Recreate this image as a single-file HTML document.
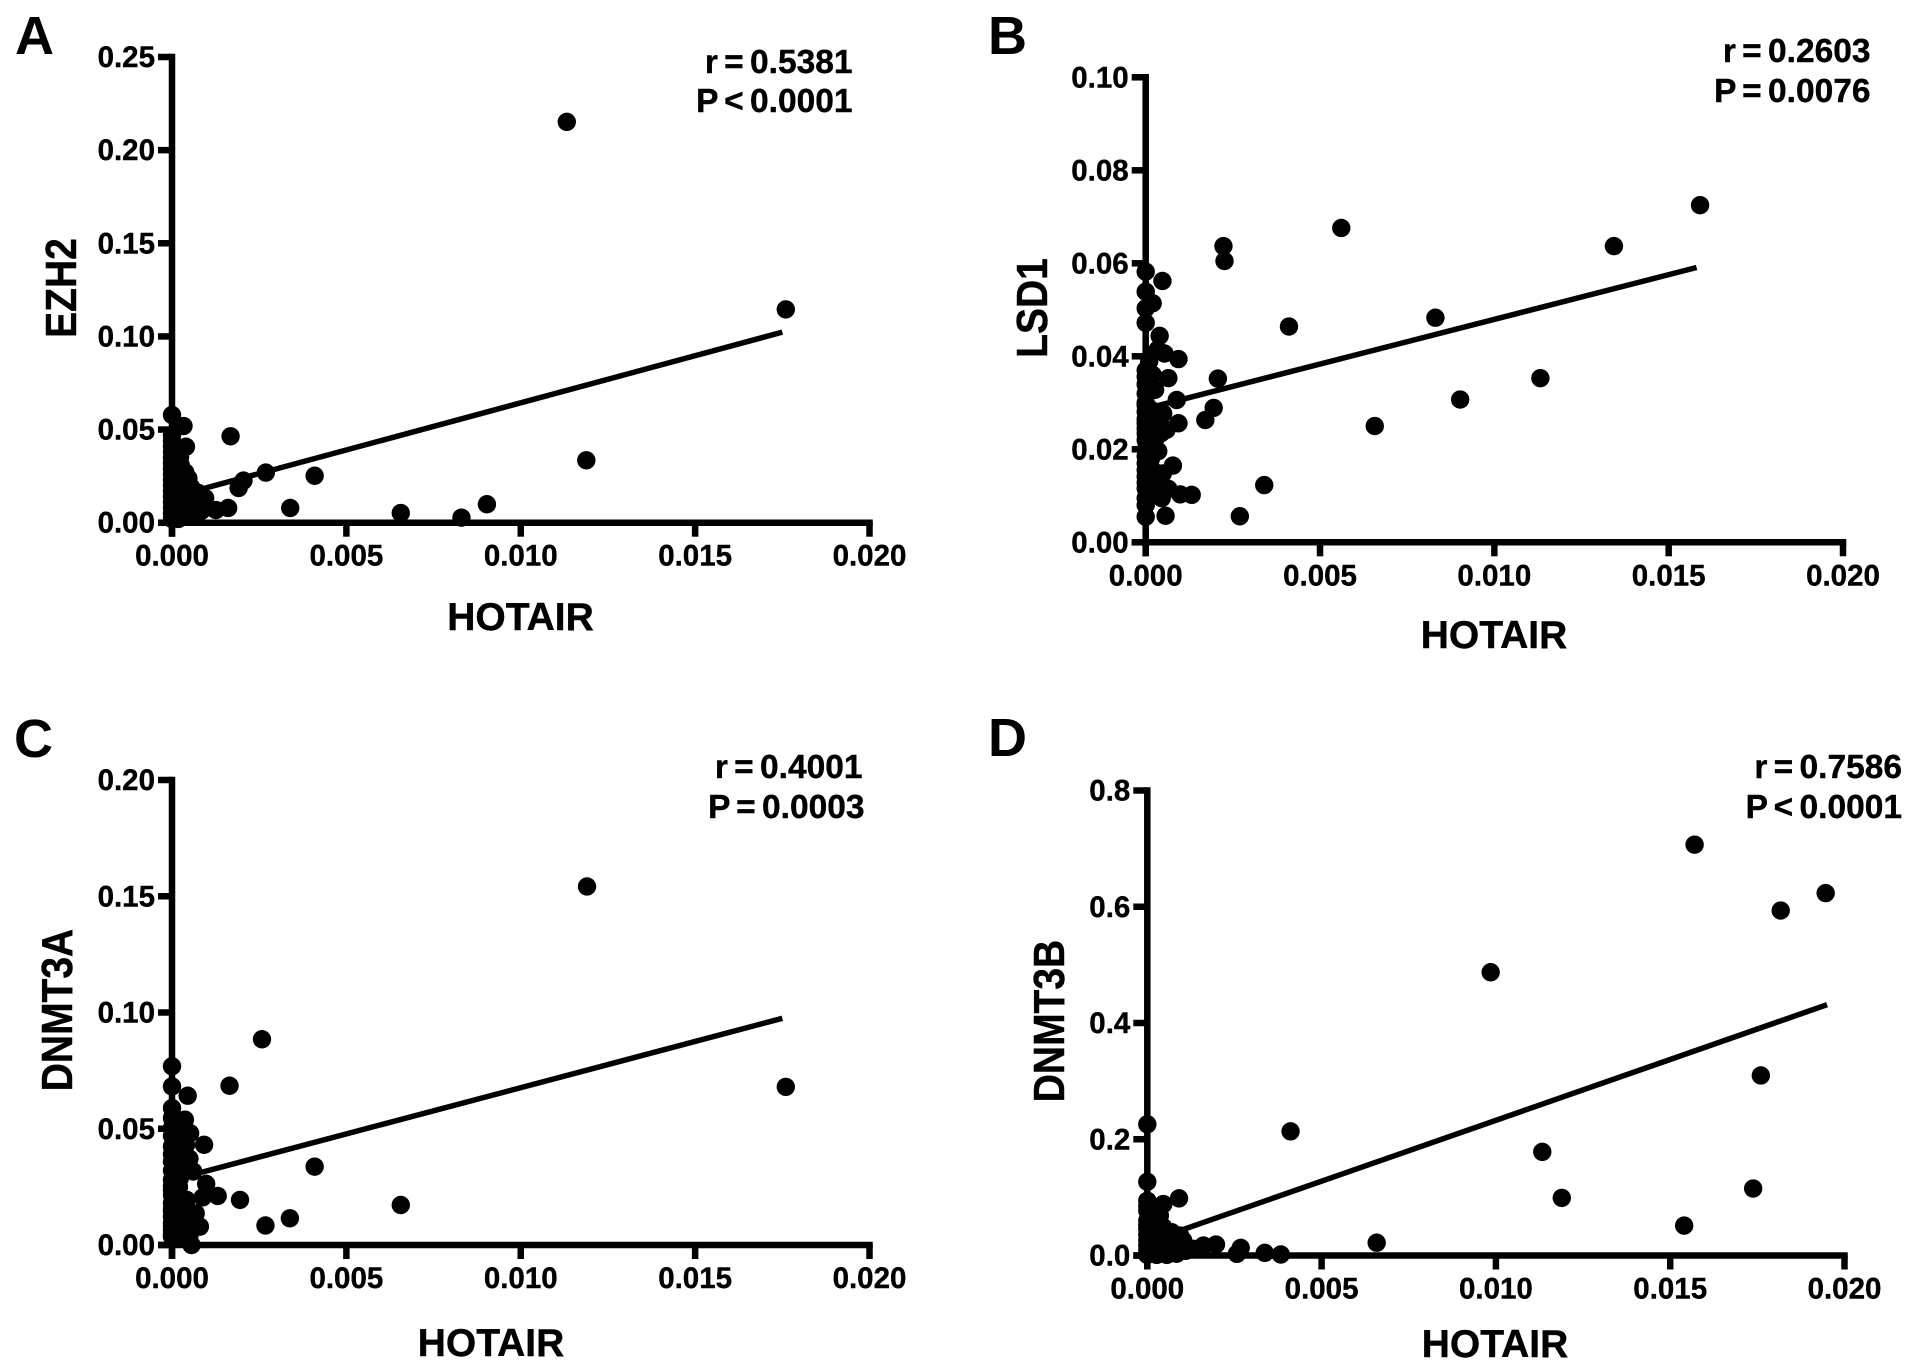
<!DOCTYPE html>
<html lang="en">
<head>
<meta charset="utf-8">
<title>HOTAIR correlation scatter plots</title>
<style>
html,body{margin:0;padding:0;background:#fff;}
svg{display:block;}
text{font-family:"Liberation Sans",Arial,sans-serif;font-weight:bold;fill:#000;}
.letter{font-size:54px;}
.stat{font-size:33.5px;text-anchor:end;word-spacing:-3px;stroke:#000;stroke-width:0.4px;}
.title{font-size:39px;text-anchor:middle;stroke:#000;stroke-width:0.4px;}
.tick{font-size:29.5px;stroke:#000;stroke-width:0.4px;}
</style>
</head>
<body>
<svg id="figure" xmlns="http://www.w3.org/2000/svg" width="1913" height="1371" viewBox="0 0 1913 1371">
  <rect x="0" y="0" width="1913" height="1371" fill="#fff"/>

  <g id="panel-a">
    <text class="letter" x="15" y="54">A</text>
    <text class="stat" x="852.5" y="73">r = 0.5381</text>
    <text class="stat" x="852.5" y="112">P &lt; 0.0001</text>
    <text class="title" x="520.5" y="630">HOTAIR</text>
    <text class="title" transform="translate(76,288) rotate(-90) scale(1,1.12)">EZH2</text>
  </g>

  <g id="panel-b">
    <text class="letter" x="988" y="54">B</text>
    <text class="stat" x="1870.5" y="62">r = 0.2603</text>
    <text class="stat" x="1870.5" y="102">P = 0.0076</text>
    <text class="title" x="1494" y="648">HOTAIR</text>
    <text class="title" transform="translate(1047,308) rotate(-90) scale(1,1.12)">LSD1</text>
  </g>

  <g id="panel-c">
    <text class="letter" x="14" y="757">C</text>
    <text class="stat" x="862.5" y="778">r = 0.4001</text>
    <text class="stat" x="864.5" y="818">P = 0.0003</text>
    <text class="title" x="491" y="1356">HOTAIR</text>
    <text class="title" transform="translate(72,1010) rotate(-90) scale(1,1.12)">DNMT3A</text>
  </g>

  <g id="panel-d">
    <text class="letter" x="988" y="756">D</text>
    <text class="stat" x="1902" y="778">r = 0.7586</text>
    <text class="stat" x="1902" y="818">P &lt; 0.0001</text>
    <text class="title" x="1495" y="1357">HOTAIR</text>
    <text class="title" transform="translate(1064,1021) rotate(-90) scale(1,1.12)">DNMT3B</text>
  </g>
</svg>

<script>
/* Shared x axis */
const xTickValues = [0, 0.005, 0.010, 0.015, 0.020];
const xTickLabels = ["0.000", "0.005", "0.010", "0.015", "0.020"];

/* Panel A: EZH2 vs HOTAIR */
const aYTickValues = [0, 0.05, 0.10, 0.15, 0.20, 0.25];
const aYTickLabels = ["0.00", "0.05", "0.10", "0.15", "0.20", "0.25"];
const aHotair = [0.01132, 0.0176, 0.01188, 0.00903, 0.0083, 0.00656, 0.00409, 0.00339, 0.00269, 0.00205, 0.00191, 0.00168, 0.00161, 0.00126,
  0, 0.00033, 0.0004, 0.00023, 0, 0, 0, 0, 0, 0, 0, 0, 0, 0, 0, 0, 0, 0, 0, 0,
  0.0001, 0.0002, 0.0003, 0.0004, 0.00047, 0.0002, 0.0003, 0.0004, 0.0005, 0.0006, 0.0007, 0.0006, 0.0002, 0.0001, 0.0008, 0.00095, 0.00085, 0.0005, 0.0003, 0.0007, 0.0001,
  0.00012, 0.00025, 0.00038, 0.00015, 0.00028, 0.00042, 0.00055, 0.00068, 0.00015, 0.0003, 0.00045, 0.0006, 0.00075, 0.0009, 0.00018, 0.00035, 0.0005, 0.00065, 0.00078];
const aEzh2 = [0.2152, 0.1145, 0.0335, 0.0099, 0.0027, 0.0052, 0.0252, 0.0079, 0.0269, 0.0226, 0.0186, 0.0464, 0.0079, 0.0068,
  0.0578, 0.0519, 0.0408, 0.0352, 0.047, 0.044, 0.041, 0.038, 0.035, 0.032, 0.029, 0.026, 0.023, 0.020, 0.017, 0.014, 0.011, 0.008, 0.005, 0.002,
  0.030, 0.026, 0.022, 0.018, 0.0238, 0.016, 0.012, 0.008, 0.013, 0.017, 0.012, 0.007, 0.006, 0.012, 0.009, 0.0132, 0.0065, 0.004, 0.003, 0.004, 0.004,
  0.036, 0.031, 0.027, 0.022, 0.02, 0.021, 0.019, 0.014, 0.009, 0.015, 0.015, 0.01, 0.016, 0.009, 0.002, 0.005, 0.007, 0.004, 0.006];
const aFitX = [0.00086, 0.0175];
const aFitY = [0.0181, 0.1023];

/* Panel B: LSD1 vs HOTAIR */
const bYTickValues = [0, 0.02, 0.04, 0.06, 0.08, 0.10];
const bYTickLabels = ["0.00", "0.02", "0.04", "0.06", "0.08", "0.10"];
const bHotair = [0.0159, 0.01343, 0.00561, 0.00223, 0.00226, 0.00411, 0.00831, 0.01132, 0.00902, 0.00657, 0.0034, 0.0027, 0.00207, 0.00195, 0.00171,
  0.00048, 0, 0, 0.0002, 0, 0, 0.0004, 0.00034, 0.00054, 0.00094, 0.0001, 0.00065, 0, 0.0001, 0.00027, 0, 0.00089, 0, 0.0005, 0.00094, 0.0006, 0.00036, 0, 0, 0.0001, 0.00036, 0, 0, 0.00078, 0.00049, 0, 0, 0.00065, 0.00099, 0.00132, 0.00046, 0, 0, 0.00057,
  0, 0, 0, 0, 0, 0, 0, 0, 0, 0, 0, 0.0002, 0.00025, 0.00015, 0.0002, 0.00025, 0.0002, 0.00015, 0.0002, 0.00022, 0.0002, 0.0003, 0.00045, 0.0002];
const bLsd1 = [0.0725, 0.0637, 0.0676, 0.0637, 0.0605, 0.0464, 0.0483, 0.0353, 0.0307, 0.0250, 0.0123, 0.0056, 0.0352, 0.0289, 0.0263,
  0.0562, 0.0582, 0.0539, 0.0514, 0.0503, 0.0472, 0.0444, 0.0414, 0.0406, 0.0394, 0.0389, 0.0353, 0.0356, 0.0346, 0.0328, 0.032, 0.0306, 0.0281, 0.0277, 0.0256, 0.0242, 0.0256, 0.0256, 0.0234, 0.0216, 0.0196, 0.0199, 0.017, 0.0165, 0.0148, 0.0141, 0.0116, 0.0115, 0.0103, 0.0102, 0.0095, 0.008, 0.0055, 0.0057,
  0.037, 0.034, 0.03, 0.0295, 0.0265, 0.0245, 0.022, 0.0185, 0.0155, 0.0128, 0.0095, 0.036, 0.033, 0.0285, 0.026, 0.0235, 0.021, 0.018, 0.0155, 0.013, 0.0105, 0.0225, 0.0235, 0.0265];
const bFitX = [0.0003, 0.0158];
const bFitY = [0.0293, 0.0591];

/* Panel C: DNMT3A vs HOTAIR */
const cYTickValues = [0, 0.05, 0.10, 0.15, 0.20];
const cYTickLabels = ["0.00", "0.05", "0.10", "0.15", "0.20"];
const cHotair = [0.0119, 0.0176, 0.00258, 0.00165, 0.00409, 0.00656, 0.00195, 0.00268, 0.00338,
  0, 0, 0.00045, 0, 0, 0.00037, 0.00052, 0.00092, 0, 0, 0.00018, 0, 0.00028, 0.0005, 0.00061, 0.00028, 0, 0.00098, 0, 0.00131, 0.00088, 0, 0.00042, 0.00068, 0, 0.00023, 0.0008, 0, 0.00056, 0.00033, 0.00056, 0,
  0, 0, 0, 0, 0, 0, 0, 0, 0, 0, 0.00015, 0.00015, 0.00018, 0.0002, 0.0002, 0.00015, 0.0002, 0.00015, 0.0002, 0.00035, 0.00045, 0.0004, 0.00022, 0.0005, 0.0006, 0.00012, 0.0004];
const cDnmt3a = [0.1542, 0.068, 0.0885, 0.0685, 0.0337, 0.0172, 0.0194, 0.0084, 0.0115,
  0.0769, 0.0682, 0.0642, 0.0589, 0.0546, 0.0539, 0.0481, 0.0431, 0.0503, 0.0424, 0.0424, 0.0359, 0.0374, 0.0371, 0.0316, 0.033, 0.028, 0.0263, 0.0237, 0.0211, 0.0205, 0.018, 0.0194, 0.0136, 0.0122, 0.0151, 0.0079, 0.0065, 0.0065, 0.0036, 0.0, 0.0036,
  0.047, 0.039, 0.032, 0.0255, 0.0215, 0.0155, 0.0095, 0.008, 0.0045, 0.0145, 0.05, 0.045, 0.037, 0.03, 0.025, 0.02, 0.01, 0.006, 0.0035, 0.0035, 0.01, 0.0125, 0.0285, 0.004, 0.0105, 0.0165, 0.043];
const cFitX = [0.00068, 0.0175];
const cFitY = [0.0306, 0.0975];

/* Panel D: DNMT3B vs HOTAIR */
const dYTickValues = [0, 0.2, 0.4, 0.6, 0.8];
const dYTickLabels = ["0.0", "0.2", "0.4", "0.6", "0.8"];
const dHotair = [0.0157, 0.01817, 0.01946, 0.00985, 0.0176, 0.01133, 0.01189, 0.01738, 0.0154, 0.00658, 0.00411,
  0, 0, 0.00091, 0, 0.00046, 0, 0.00036, 0, 0, 0.00046, 0.00094, 0.0007, 0, 0.00027, 0.00056, 0, 0.00056, 0, 0.00103, 0.00132, 0.00161, 0.00197, 0.00257, 0.00268, 0.00337, 0.00383, 0.00027, 0.00084, 0.00027, 0.0002, 0.0004, 0.0006,
  0, 0, 0, 0, 0.00015, 0.00015, 0.00018, 0.0003, 0.0003, 0.00012, 0.0004, 0.0005, 0.0006, 0.0007, 0.0002, 0.0004, 0.0008, 0.0009, 0.0011, 0.0001, 0.0003, 0.0005];
const dDnmt3b = [0.7068, 0.5935, 0.6235, 0.4873, 0.3097, 0.1783, 0.0991, 0.1152, 0.0514, 0.022, 0.2136,
  0.2257, 0.1268, 0.0983, 0.0943, 0.0885, 0.077, 0.0686, 0.06, 0.0457, 0.0486, 0.0343, 0.04, 0.0257, 0.0257, 0.0143, 0.0086, 0.001, 0.001, 0.0257, 0.0114, 0.0171, 0.0189, 0.0029, 0.0131, 0.0046, 0.0017, 0.001, 0.003, 0.05, 0.035, 0.03, 0.025,
  0.085, 0.052, 0.036, 0.017, 0.075, 0.06, 0.045, 0.058, 0.04, 0.02, 0.02, 0.03, 0.028, 0.018, 0.01, 0.01, 0.012, 0.018, 0.008, 0.005, 0.006, 0.008];
const dFitX = [0.0009, 0.0195];
const dFitY = [0.042, 0.4315];

const SVG_NS = "http://www.w3.org/2000/svg";
const POINT_RADIUS = 9.2;
const AXIS_WIDTH = 6.5;
const TICK_LENGTH = 14;

function makeEl(tag, parent) {
  const el = document.createElementNS(SVG_NS, tag);
  parent.appendChild(el);
  return el;
}

function drawPanel(panelId, frame, yMax, yTickValues, yTickLabels, xs, ys, fitX, fitY) {
  const panel = document.getElementById(panelId);
  const xMax = xTickValues[xTickValues.length - 1];
  const scaleX = function (v) { return frame.left + (v / xMax) * (frame.right - frame.left); };
  const scaleY = function (v) { return frame.bottom - (v / yMax) * (frame.bottom - frame.top); };

  const marks = makeEl("g", panel);
  
  

  const axes = makeEl("g", panel);
  
  
  axes.setAttribute("stroke", "#000");
  axes.setAttribute("stroke-width", AXIS_WIDTH);

  const xAxis = makeEl("line", axes);
  
  
  xAxis.setAttribute("x1", frame.left - TICK_LENGTH);
  xAxis.setAttribute("x2", frame.right + AXIS_WIDTH / 2);
  xAxis.setAttribute("y1", frame.bottom);
  xAxis.setAttribute("y2", frame.bottom);

  const yAxis = makeEl("line", axes);
  
  
  yAxis.setAttribute("x1", frame.left);
  yAxis.setAttribute("x2", frame.left);
  yAxis.setAttribute("y1", frame.top - AXIS_WIDTH / 2);
  yAxis.setAttribute("y2", frame.bottom + TICK_LENGTH);

  xTickValues.forEach(function (value, i) {
    const px = scaleX(value);
    const tick = makeEl("line", axes);
    
    
    tick.setAttribute("x1", px);
    tick.setAttribute("x2", px);
    tick.setAttribute("y1", frame.bottom);
    tick.setAttribute("y2", frame.bottom + TICK_LENGTH);

    const label = makeEl("text", panel);
    
    
    label.setAttribute("class", "tick");
    label.setAttribute("text-anchor", "middle");
    label.setAttribute("x", px);
    label.setAttribute("y", frame.bottom + 43);
    label.textContent = xTickLabels[i];
  });

  yTickValues.forEach(function (value, i) {
    const py = scaleY(value);
    const tick = makeEl("line", axes);
    
    
    tick.setAttribute("x1", frame.left - TICK_LENGTH);
    tick.setAttribute("x2", frame.left);
    tick.setAttribute("y1", py);
    tick.setAttribute("y2", py);

    const label = makeEl("text", panel);
    
    
    label.setAttribute("class", "tick");
    label.setAttribute("text-anchor", "end");
    label.setAttribute("x", frame.left - 17);
    label.setAttribute("y", py + 10);
    label.textContent = yTickLabels[i];
  });

  const fit = makeEl("line", panel);
  
  
  fit.setAttribute("stroke", "#000");
  fit.setAttribute("stroke-width", 5.5);
  fit.setAttribute("x1", scaleX(fitX[0]));
  fit.setAttribute("y1", scaleY(fitY[0]));
  fit.setAttribute("x2", scaleX(fitX[1]));
  fit.setAttribute("y2", scaleY(fitY[1]));

  xs.forEach(function (value, i) {
    const dot = makeEl("circle", marks);
    
    
    dot.setAttribute("cx", scaleX(value));
    dot.setAttribute("cy", scaleY(ys[i]));
    dot.setAttribute("r", POINT_RADIUS);
    dot.setAttribute("fill", "#000");
  });
}

drawPanel("panel-a", {left: 172, right: 869.5, top: 57, bottom: 522.7}, 0.25, aYTickValues, aYTickLabels, aHotair, aEzh2, aFitX, aFitY);
drawPanel("panel-b", {left: 1145.7, right: 1843, top: 77.3, bottom: 542.3}, 0.10, bYTickValues, bYTickLabels, bHotair, bLsd1, bFitX, bFitY);
drawPanel("panel-c", {left: 172, right: 869.5, top: 780, bottom: 1245}, 0.20, cYTickValues, cYTickLabels, cHotair, cDnmt3a, cFitX, cFitY);
drawPanel("panel-d", {left: 1147.3, right: 1844.5, top: 790.5, bottom: 1255.5}, 0.8, dYTickValues, dYTickLabels, dHotair, dDnmt3b, dFitX, dFitY);
</script>
</body>
</html>
